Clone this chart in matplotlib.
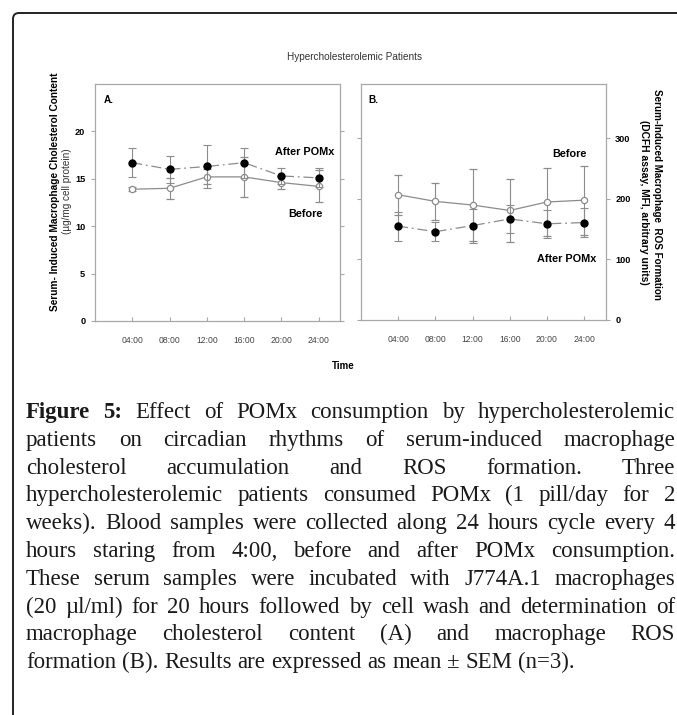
import matplotlib
matplotlib.use('Agg')
import matplotlib.pyplot as plt
from matplotlib.path import Path
from matplotlib.patches import PathPatch

# ---------------- data ----------------
hours = [4, 8, 12, 16, 20, 24]
time_labels = ['04:00', '08:00', '12:00', '16:00', '20:00', '24:00']

chol_before = [13.9, 14.0, 15.2, 15.2, 14.6, 14.2]
chol_before_sem = [0.2, 1.1, 0.8, 2.1, 0.7, 1.7]
chol_after = [16.7, 16.0, 16.3, 16.7, 15.3, 15.1]
chol_after_sem = [1.5, 1.4, 2.3, 1.6, 0.8, 1.0]

ros_before = [207, 196, 190, 181, 195, 198]
ros_before_sem = [33, 30, 60, 52, 56, 57]
ros_after = [155, 146, 156, 167, 159, 161]
ros_after_sem = [24, 16, 28, 23, 23, 24]

chol_ticks = [0, 5, 10, 15, 20]
ros_ticks = [0, 100, 200, 300]

caption_lines = [
    "Figure 5: Effect of POMx consumption by hypercholesterolemic",
    "patients on circadian rhythms of serum-induced macrophage",
    "cholesterol accumulation and ROS formation. Three",
    "hypercholesterolemic patients consumed POMx (1 pill/day for 2",
    "weeks). Blood samples were collected along 24 hours cycle every 4",
    "hours staring from 4:00, before and after POMx consumption.",
    "These serum samples were incubated with J774A.1 macrophages",
    "(20 \u00b5l/ml) for 20 hours followed by cell wash and determination of",
    "macrophage cholesterol content (A) and macrophage ROS",
    "formation (B). Results are expressed as mean \u00b1 SEM (n=3).",
]

# ---------------- figure ----------------
W, H = 677, 715
fig = plt.figure(figsize=(W / 100, H / 100), dpi=100)
plt.rcParams['font.family'] = ['Liberation Sans', 'DejaVu Sans']

def fx(x):
    return x / W

def fy(y):
    return 1 - y / H

# frame (top + left with rounded corner)
r = 6
verts = [(13, H + 5), (13, 13 + r), (13, 13), (13 + r, 13), (W + 5, 13)]
codes = [Path.MOVETO, Path.LINETO, Path.CURVE3, Path.CURVE3, Path.LINETO]
verts = [(x / 100, (H - y) / 100) for x, y in verts]
fig.add_artist(PathPatch(Path(verts, codes), fill=False, lw=1.4,
                         edgecolor='#222222', transform=fig.dpi_scale_trans))

spine_col = '#a8a8a8'
line_col = '#8c8c8c'

def style_axes(ax, ylim, yticks, label_right):
    ax.set_xlim(0, 26.3)
    ax.set_ylim(*ylim)
    for s in ax.spines.values():
        s.set_color(spine_col)
        s.set_linewidth(0.9)
    ax.set_xticks(hours)
    ax.set_xticklabels(time_labels, fontsize=6.2, color='#444444')
    ax.set_yticks(yticks)
    ax.tick_params(axis='x', direction='in', length=3, color=spine_col, pad=10.5)
    ax.tick_params(axis='y', direction='out', length=3, color=spine_col,
                   left=True, right=True, labelleft=not label_right,
                   labelright=label_right, labelsize=6.6, pad=4)
    for t in ax.get_yticklabels():
        t.set_fontweight('bold')

def draw(ax, before, bsem, after, asem):
    ax.errorbar(hours, before, yerr=bsem, fmt='-o', color=line_col, lw=0.9,
                mfc='white', mec=line_col, ms=4.5, mew=0.9,
                ecolor=line_col, elinewidth=0.8, capsize=3, capthick=0.8, zorder=3)
    ax.errorbar(hours, after, yerr=asem, fmt='o', ls=(0, (8, 3, 1.5, 3)),
                color=line_col, lw=0.9, mfc='black', mec='black', ms=5,
                ecolor=line_col, elinewidth=0.8, capsize=3, capthick=0.8, zorder=4)

axA = fig.add_axes([fx(95), fy(321), 245 / W, 237 / H])
draw(axA, chol_before, chol_before_sem, chol_after, chol_after_sem)
style_axes(axA, (0, 25), chol_ticks, False)

axB = fig.add_axes([fx(361), fy(320), 244.5 / W, 236 / H])
draw(axB, ros_before, ros_before_sem, ros_after, ros_after_sem)
style_axes(axB, (0, 390), ros_ticks, True)

# in-panel texts
def ftext(x, y, s, **kw):
    fig.text(fx(x), fy(y), s, **kw)

ftext(104, 100, 'A.', fontsize=7.2, fontweight='bold', va='center', ha='left')
ftext(368, 100, 'B.', fontsize=7.2, fontweight='bold', va='center', ha='left')
ftext(305, 152, 'After POMx', fontsize=7.8, fontweight='bold', ha='center', va='center')
ftext(305, 214, 'Before', fontsize=7.8, fontweight='bold', ha='center', va='center')
ftext(569, 154, 'Before', fontsize=7.8, fontweight='bold', ha='center', va='center')
ftext(567, 259, 'After POMx', fontsize=7.8, fontweight='bold', ha='center', va='center')

ftext(354, 57, 'Hypercholesterolemic Patients', fontsize=7.2, color='#333333',
      ha='center', va='center')
ftext(343, 366, 'Time', fontsize=7, fontweight='bold', ha='center', va='center')

ftext(55, 192, 'Serum- Induced Macrophage Cholesterol Content', fontsize=7.3,
      fontweight='bold', rotation=90, ha='center', va='center')
ftext(67, 191, '(\u00b5g/mg cell protein)', fontsize=7.2, rotation=90,
      ha='center', va='center', color='#333333')
ftext(657, 194, 'Serum-Induced Macrophage  ROS Formation', fontsize=7.1,
      fontweight='bold', rotation=-90, ha='center', va='center')
ftext(644, 202, '(DCFH assay, MFI, arbitrary units)', fontsize=7.4,
      fontweight='bold', rotation=-90, ha='center', va='center')

# ---------------- caption (justified) ----------------
renderer = fig.canvas.get_renderer()
serif = ['Liberation Serif', 'DejaVu Serif']
left_x, right_x = 26, 675
base_y0, dy = 418, 27.8

def measure(word, size, weight='normal'):
    t = fig.text(0, 0, word, fontsize=size, family=serif, fontweight=weight)
    w = t.get_window_extent(renderer).width
    t.remove()
    return w

# fit font size so that the last line has its reference width (~548 px)
probe = 10.0
wlast = measure(caption_lines[-1], probe)
cap_size = probe * 548 / wlast

for i, line in enumerate(caption_lines):
    words = line.split(' ')
    weights = ['normal'] * len(words)
    if i == 0:
        weights[0] = 'bold'
        weights[1] = 'bold'
    widths = [measure(w, cap_size, wt) for w, wt in zip(words, weights)]
    y = base_y0 + dy * i
    if i < len(caption_lines) - 1:
        gap = (right_x - left_x - sum(widths)) / (len(words) - 1)
    else:
        gap = measure('a b', cap_size) - measure('ab', cap_size)
    x = left_x
    for w, wt, wd in zip(words, weights, widths):
        fig.text(fx(x), fy(y), w, fontsize=cap_size, family=serif,
                 fontweight=wt, color='#1a1a1a', ha='left', va='baseline')
        x += wd + gap

fig.savefig('out.png', dpi=100)
